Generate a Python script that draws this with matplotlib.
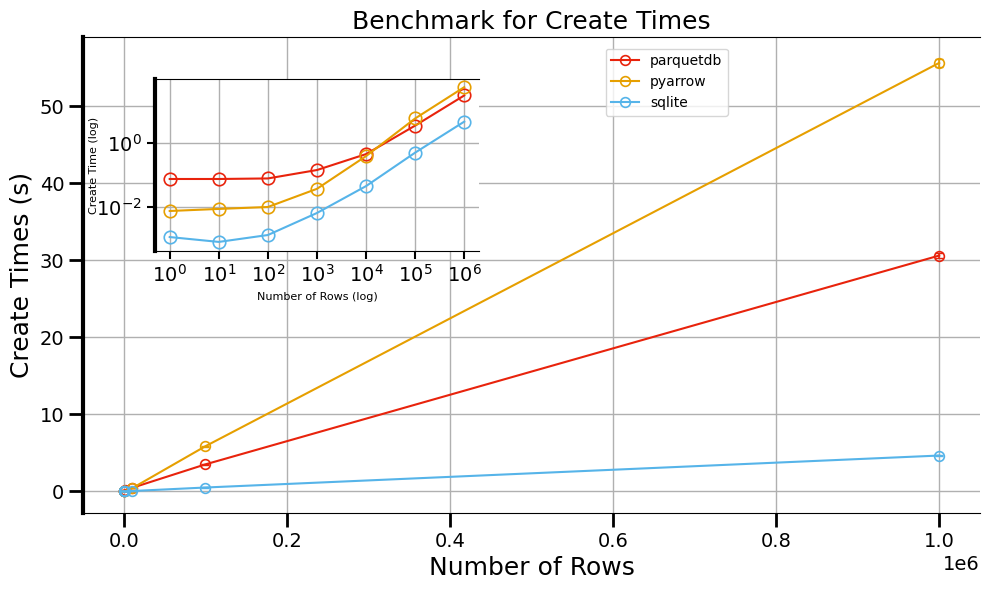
import matplotlib.pyplot as plt
import numpy as np

# benchmark data
n_rows = [1, 10, 100, 1000, 10000, 100000, 1000000]
engines = ['parquetdb', 'pyarrow', 'sqlite']
colors = ['#e8230c', '#e69f00', '#56b4e9']

parquetdb_times = [0.075, 0.075, 0.078, 0.143, 0.45, 3.5, 30.6]
pyarrow_times = [0.0075, 0.0087, 0.0100, 0.037, 0.39, 5.85, 55.6]
sqlite_times = [0.00115, 0.00081, 0.00133, 0.0065, 0.045, 0.50, 4.65]

parquetdb_err = [0.002, 0.002, 0.002, 0.005, 0.01, 0.05, 0.35]
pyarrow_err = [0.0003, 0.0003, 0.0003, 0.001, 0.01, 0.08, 0.55]
sqlite_err = [0.0001, 0.0001, 0.0001, 0.0003, 0.002, 0.01, 0.08]

times = [parquetdb_times, pyarrow_times, sqlite_times]
errors = [parquetdb_err, pyarrow_err, sqlite_err]

fig = plt.figure(figsize=(9.89, 5.9), dpi=100)
ax = fig.add_axes([0.0839, 0.1305, 0.9070, 0.8068])

handles = []
for name, t, e, c in zip(engines, times, errors, colors):
    line, = ax.plot(n_rows, t, color=c, marker='o', markersize=7,
                    markerfacecolor='none', markeredgewidth=1.2,
                    linewidth=1.5, label=name)
    ax.errorbar(n_rows, t, yerr=e, color=c, fmt='none', capsize=3,
                linewidth=1.2)
    handles.append(line)

ax.set_title('Benchmark for Create Times', fontsize=18)
ax.set_xlabel('Number of Rows', fontsize=18)
ax.set_ylabel('Create Times (s)', fontsize=18)
ax.grid(True, color='#b0b0b0', linewidth=1)
ax.set_axisbelow(True)
ax.tick_params(axis='both', which='major', length=10, width=2, labelsize=14)
ax.xaxis.get_offset_text().set_fontsize(14)
ax.spines['left'].set_linewidth(3)
ax.spines['right'].set_visible(False)
ax.set_yticks([0, 10, 20, 30, 40, 50])
ax.legend(handles=handles, loc='upper left', bbox_to_anchor=(0.575, 0.99),
          fontsize=10)

# inset with log scales
ax_in = fig.add_axes([0.1567, 0.5746, 0.3276, 0.2915])
for name, t, c in zip(engines, times, colors):
    ax_in.plot(n_rows, t, color=c, marker='o', markersize=9,
               markerfacecolor='none', markeredgewidth=1.2, linewidth=1.5)
ax_in.set_xscale('log')
ax_in.set_yscale('log')
ax_in.set_ylim(10 ** -3.375, 10 ** 2)
ax_in.set_yticks([1e-2, 1e0])
ax_in.set_xticks(n_rows)
ax_in.grid(True, color='#b0b0b0', linewidth=1)
ax_in.set_xlabel('Number of Rows (log)', fontsize=8)
ax_in.set_ylabel('Create Time (log)', fontsize=8)
ax_in.yaxis.set_label_coords(-0.172, 0.5)
ax_in.tick_params(axis='both', which='major', length=6, width=1.5, labelsize=14)
ax_in.tick_params(axis='y', which='minor', left=False)
ax_in.spines['left'].set_linewidth(3)
ax_in.spines['right'].set_visible(False)

fig.savefig('out.png', dpi=100)
